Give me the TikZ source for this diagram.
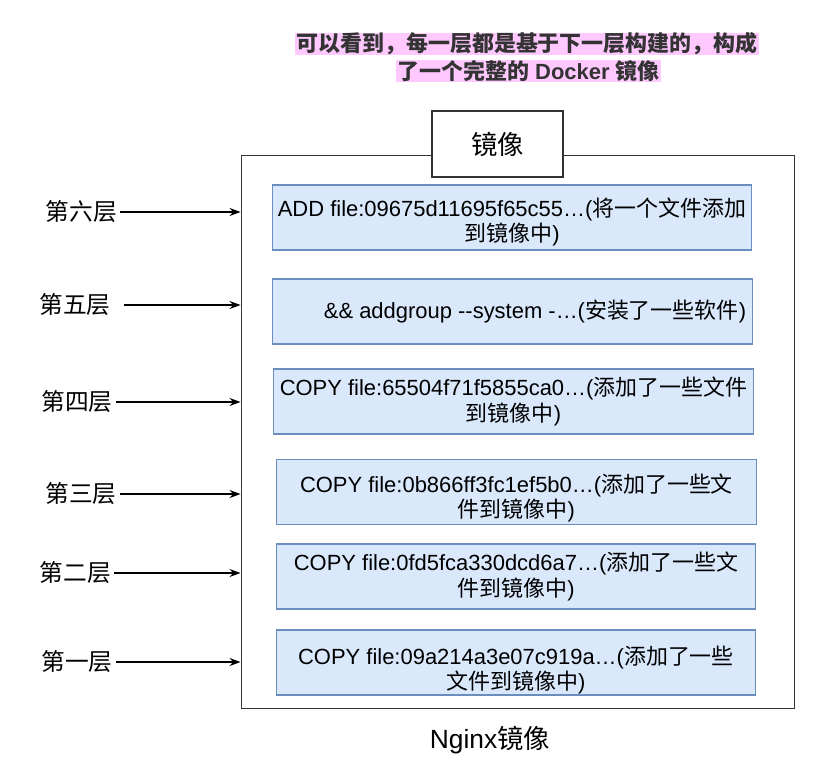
\documentclass[tikz,border=0pt]{standalone}
\usepackage{fontspec}
\setmainfont{Liberation Sans}
\newfontfamily\zhfont{Noto Sans CJK SC}
\newcommand{\zh}[1]{{\zhfont #1}}
\newcommand{\lift}[1]{\rule{0pt}{#1}}
\usepackage{tikz}
\usetikzlibrary{arrows.meta,positioning}
\usepackage{xcolor}
\definecolor{layerfill}{RGB}{218,232,252}
\definecolor{layerline}{RGB}{108,142,191}
\definecolor{notepink} {RGB}{255,200,255}
\definecolor{notetext} {RGB}{51,51,51}
\definecolor{frameline}{RGB}{51,51,51}

\begin{document}
\begin{tikzpicture}[
    x=0.02cm, y=-0.02cm,
    layer/.style={draw=layerline, fill=layerfill, line width=0.6pt, minimum width=9.6cm, minimum height=1.3cm, align=center, inner sep=0pt, font=\fontsize{12.5}{14.3}\selectfont},
    frame/.style={draw=frameline, line width=0.6pt, minimum width=11.08cm, minimum height=11.08cm},
    tag/.style={draw=frameline, fill=white, line width=0.6pt, minimum width=2.62cm, minimum height=1.32cm, font=\fontsize{15}{18}\selectfont},
    level/.style={font=\fontsize{13.5}{16}\selectfont, inner sep=1.5pt},
    note/.style={fill=notepink, text=notetext, inner xsep=1pt, inner ysep=0pt, minimum height=0.44cm, font=\fontsize{12.5}{15}\selectfont\bfseries},
    arrow/.style={-{Stealth[length=2.2mm, width=1.6mm]}, line width=0.6pt}
]
    \useasboundingbox (0,0) rectangle (839,768);

    % explanation on top
    \node[note] (note1) at (527,44) {\zh{可以看到，每一层都是基于下一层构建的，构成}};
    \node[note] (note2) at (528.5,71) {\zh{了一个完整的} Docker \zh{镜像}};

    % the image and its layers
    \node[frame] (img) at (518,432) {};
    \node[tag] (imgtag) at (497.5,144) {\zh{镜像}};

    \node[layer] (l6) at (512,217.5) {\lift{15.5pt}ADD file:09675d11695f65c55…(\zh{将一个文件添加}\\\zh{到镜像中})};
    \node[layer] (l5) at (512.5,311.5) {\hspace*{0.9cm}\&\& addgroup -{}-system -…(\zh{安装了一些软件})};
    \node[layer] (l4) at (513.5,401.5) {COPY file:65504f71f5855ca0…(\zh{添加了一些文件}\\\zh{到镜像中})};
    \node[layer] (l3) at (516.5,492) {\lift{17pt}COPY file:0b866ff3fc1ef5b0…(\zh{添加了一些文}\\\zh{件到镜像中})};
    \node[layer] (l2) at (516,576.5) {COPY file:0fd5fca330dcd6a7…(\zh{添加了一些文}\\\zh{件到镜像中})};
    \node[layer] (l1) at (516,662.5) {\lift{19pt}COPY file:09a214a3e07c919a…(\zh{添加了一些}\\\zh{文件到镜像中})};

    \node[font=\fontsize{15}{18}\selectfont] (name) at (490,740) {Nginx\zh{镜像}};

    % layer labels
    \node[level] (t6) at (81.5,212) {\zh{第六层}};
    \node[level] (t5) at (75,305) {\zh{第五层}};
    \node[level] (t4) at (77,402) {\zh{第四层}};
    \node[level] (t3) at (81,494) {\zh{第三层}};
    \node[level] (t2) at (75.5,573) {\zh{第二层}};
    \node[level] (t1) at (77,662) {\zh{第一层}};

    \draw[arrow] (t6.east) -- (t6.east -| img.west);
    \draw[arrow] ([xshift=0.2cm]t5.east) -- (t5.east -| img.west);
    \draw[arrow] (t4.east) -- (t4.east -| img.west);
    \draw[arrow] (t3.east) -- (t3.east -| img.west);
    \draw[arrow] (t2.east) -- (t2.east -| img.west);
    \draw[arrow] (t1.east) -- (t1.east -| img.west);
\end{tikzpicture}
\end{document}
